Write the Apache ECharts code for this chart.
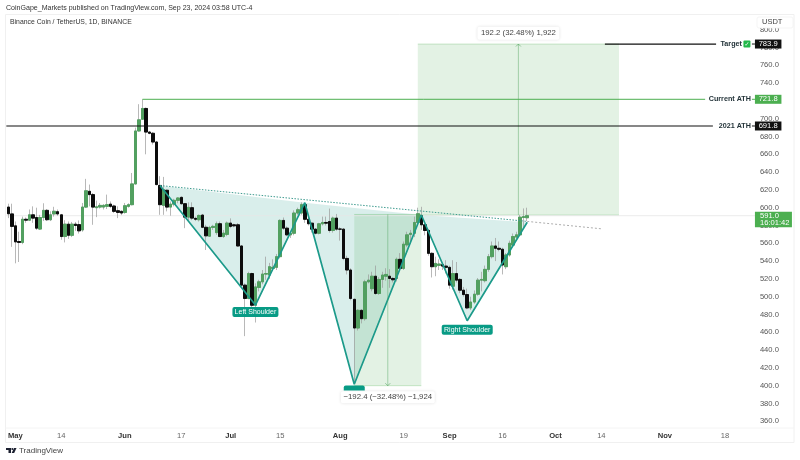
<!DOCTYPE html>
<html><head><meta charset="utf-8">
<style>html,body{margin:0;padding:0;background:#fff}#c{width:800px;height:460px}</style>
<script src="https://cdn.jsdelivr.net/npm/echarts@6/dist/echarts.min.js"></script>
</head><body><div id="c"></div>
<script>
const opens = [
600.7,593,579.6,562,561,587,586,592,589,576,
589,597,586.5,593,595.5,592,567.6,581.5,569,581.5,
581,575,600.7,618.4,614.7,600,600.7,600.7,601.5,604,
601.9,596.6,595.9,594.7,601.5,603.4,626.7,686.2,699.4,711.5,
685,683.6,673.8,625,602.6,619.6,600.7,604,608.3,611.6,
604.5,589.4,600,588,586.5,591.7,578,568,577.8,572,
582,567.6,570,582.7,580.8,580.8,557,513,498,526,
490.4,510.4,516.7,525.4,524.3,531.8,533,545,585.7,577,
569.5,571.3,594,594,603.4,587,582.6,575.9,571.3,581.9,
583.4,584.5,574.4,588.3,576,575.9,543,530,497,464.8,
484.7,475.3,516.7,509,523,503.6,519.4,523,523,520.5,
520.5,542,531.8,558.2,570,571.3,583.4,590.9,580.8,574.4,
548.7,533.7,535.2,536,534.4,533,511.8,526,519.4,507.3,
502.4,487.4,494,502.8,518.6,518,530.7,545,557,554.4,
553.3,533.7,546.9,558,567,569.5,589,588.7];
const closes = [
593.2,579,561.6,561,587,586,592,588.3,577,589,
597,586.5,592,596,593,567.6,581.5,569,581.5,580,
574,600.7,619,614.7,600.7,601,602.6,602.6,603.4,601.5,
595.9,594.7,594,602.2,603.4,626.7,686.2,698.7,711.5,685,
683.6,673.8,626,603.4,620.3,600.7,604,608.3,610.9,604.5,
589.4,600.4,588.3,587,591.3,578,568.4,577.8,579,582,
567.6,571.4,582.7,579,579.6,557,513,498,526,490.4,
511,516.7,525.4,526,533.7,533,545,585.7,577,569.5,
571.3,594,597.7,603.4,587,582,575.9,571.3,581.9,583.4,
582.6,574.4,588.3,575.9,575.9,543,530,498,464.8,484.7,
475.3,516.7,518.6,523,503.6,519.4,524.3,525,520.5,519,
542,531.8,559,569.5,571.3,583.4,593.2,580.8,574.4,548.7,
533.7,537.4,536.7,534.4,533,513,526,518.6,507.3,502.4,
487.4,494,502.8,518.6,519.4,530.7,545,557,554.4,553.3,
535.6,546.9,560,567.6,569.5,589.4,590,591];
const highs = [
604.5,604.5,584.5,573,590,589,598,601.5,600,592,
605,598.5,596,601,598,593,586,584.5,584,584,
585.7,605.3,632.4,626,616.5,608,605.3,604,614.7,607,
603.4,601.5,597,605.3,605,639,690,716.3,721.8,712.6,
686,685,675,635.4,634.6,620.3,607,610,612,612.8,
605.3,606,606,590,592.4,593,580.8,579.6,580.8,584.5,
584.5,575,584.5,588,582,582.7,558,515,528,527,
515,519,530,545,538,542,548,587,589,579,
573,597,600,606,605,589,583,577,583,590,
590,599,590,593,578,577,546,532,498,486,
486,519,525,528,535,522,528,532,531,522,
544,549,562,573,575,590,600,601,582,576,
550,545,542,538,541,535,541,539,521,511,
509,500,507,521,528,535,548,562,566,562,
555,549,563,571,573,592,599.2,600];
const lows = [
588.3,556,537.5,539,559,583,585,583,575,575,
585,585,585,590,591,564,561,565,567,574,
571,573,599.6,601.5,580.8,589.4,599,598,598.5,599.6,
594,588.3,591.7,593.2,600,602.6,626,685.5,698.7,660,
682.5,671,625,592,592,595.9,591,601.5,605,603.4,
577,586,586,585,584.5,577,552.5,567.6,575,569.5,
567,566,568,577,578,556,512,455.7,497,488,
471,506,514,519,520,530,530,543,575,568,
566,569,592,592,583,580,572,570,570,580,
580,572,572,574,563,541,525,496,402,462,
470,473,515,506,502,502,510,518,510,516,
517,529,530,556,560,567,580,575,569,546,
521.6,523,530,530,526,509,508,516,504,500,
486,485,492,501,506,516,528,543,540,551,
525,531,545,556,565,568,578,585];

const tickDates = ['2024-05-01','2024-05-14','2024-06-01','2024-06-17','2024-07-01','2024-07-15','2024-08-01','2024-08-19','2024-09-01','2024-09-16','2024-10-01','2024-10-14','2024-11-01','2024-11-18'];
const tickLabels = ['May','14','Jun','17','Jul','15','Aug','19','Sep','16','Oct','14','Nov','18'];

const patternIdx = [43,70,84,98,117,130,147];
const patternPrice = [624.7,490.6,605.6,401.6,591.8,473,583.6];
const necklineIdx = [43,147];
const necklinePrice = [624.9,584.6];
const necklineExtIdx = [147,168];
const necklineExtPrice = [584.6,576.3];

const levelNames = ['Target','Current ATH','2021 ATH'];
const levelPrices = [783.9,721.8,691.8];
const levelStart = [169,38,0];
const levelEnd = [200.5,197.4,199.6];
const levelColors = ['#111111','#4caf50','#111111'];
const lastPrice = 591.0;
const countdown = '16:01:42';

const upBox = {from:116,to:173,low:591.7,high:783.9,text:'192.2 (32.48%) 1,922',labelPrice:796};
const downBox = {from:98,to:117,low:400,high:592.4,text:'\u2212192.4 (\u221232.48%) \u22121,924',labelPrice:387};

const FONT = '"Liberation Sans", Arial, sans-serif';
const categories = [];
for (let t = Date.UTC(2024,3,29), i = 0; i < 212; i++, t += 864e5) categories.push(new Date(t).toISOString().slice(0,10));
const wickData = opens.map((o,i)=>[o,closes[i],lows[i],highs[i]]);
const bodyData = opens.map((o,i)=>[o,closes[i],Math.min(o,closes[i]),Math.max(o,closes[i])]);
const UP = '#52a060', DOWN = '#0c0c0c', TEAL = '#1c9a8a';

function cx(api,idx){ const a=Math.floor(idx), f=idx-a;
  const p=api.coord([a,600])[0]; if(!f) return p; return p+f*(api.coord([a+1,600])[0]-p); }
function py(api,v){ return api.coord([0,v])[1]; }

function renderBack(params,api){
  const ch=[];
  for(let k=0;k<3;k++){
    const pts=[0,1,2].map(j=>api.coord([patternIdx[k*2+j],patternPrice[k*2+j]]));
    ch.push({type:'polygon',shape:{points:pts},style:{fill:'rgba(28,154,138,0.17)'}});
  }
  [upBox,downBox].forEach(b=>{
    const x0=cx(api,b.from),x1=cx(api,b.to),y0=py(api,b.high),y1=py(api,b.low);
    ch.push({type:'rect',shape:{x:x0,y:y0,width:x1-x0,height:y1-y0},style:{fill:'rgba(76,175,80,0.155)'}});
    ch.push({type:'line',shape:{x1:x0,y1:y0,x2:x1,y2:y0},style:{stroke:'rgba(76,175,80,0.35)',lineWidth:.8}});
    ch.push({type:'line',shape:{x1:x0,y1:y1,x2:x1,y2:y1},style:{stroke:'rgba(76,175,80,0.35)',lineWidth:.8}});
  });
  const yl=py(api,lastPrice);
  ch.push({type:'line',shape:{x1:cx(api,0)-2,y1:yl,x2:cx(api,211)+2,y2:yl},style:{stroke:'#e6e6e6',lineWidth:.8}});
  return {type:'group',children:ch};
}

function textEl(x,y,text,o){ return {type:'text',style:Object.assign({x,y,text,align:'center',verticalAlign:'middle',font:'7.6px '+FONT,fill:'#333'},o||{})}; }

function renderFront(params,api){
  const ch=[];
  [[upBox,true],[downBox,false]].forEach(([b,up])=>{
    const x=cx(api,(b.from+b.to)/2),y0=py(api,b.high),y1=py(api,b.low);
    ch.push({type:'line',shape:{x1:x,y1:y0,x2:x,y2:y1},style:{stroke:'rgba(76,160,90,0.55)',lineWidth:.8}});
    const tip=up?y0:y1,s=up?2.5:-2.5;
    ch.push({type:'polyline',shape:{points:[[x-2.5,tip+s],[x,tip],[x+2.5,tip+s]]},style:{stroke:'rgba(76,160,90,0.7)',lineWidth:.8,fill:null}});
    const lx=x,ly=py(api,b.labelPrice),w=up?82:94,h=up?13:12;
    ch.push({type:'rect',shape:{x:lx-w/2,y:ly-h/2,width:w,height:h,r:2},style:{fill:'#fff',shadowBlur:3,shadowColor:'rgba(0,0,0,0.13)'}});
    ch.push(textEl(lx,ly,b.text,{fill:'#444',font:'7.8px '+FONT}));
  });
  const hx=cx(api,98),hy=py(api,398);
  ch.push({type:'rect',shape:{x:hx-10.5,y:hy-2,width:21,height:5,r:[2,2,0,0]},style:{fill:'#089b85'}});
  [['Left Shoulder',70,482.8,46],['Right Shoulder',130,463,51]].forEach(([t,i,p,w])=>{
    const x=cx(api,i),y=py(api,p);
    ch.push({type:'rect',shape:{x:x-w/2,y:y-5,width:w,height:10,r:2},style:{fill:'#089b85'}});
    ch.push(textEl(x,y,t,{fill:'#fff',font:'7px '+FONT}));
  });
  const xEnd=cx(api,211)+1.8;
  levelNames.forEach((n,k)=>{
    const y=py(api,levelPrices[k]),c=levelColors[k];
    ch.push({type:'line',shape:{x1:cx(api,levelStart[k])-(k==2?2:0),y1:y,x2:cx(api,levelEnd[k]),y2:y},style:{stroke:c,lineWidth:k==1?1:1.2}});
    ch.push({type:'line',shape:{x1:xEnd-3,y1:y,x2:xEnd,y2:y},style:{stroke:c,lineWidth:1}});
    const right=k==0?xEnd-13:xEnd-4;
    ch.push(textEl(right,y,n,{align:'right',font:'bold 7.2px '+FONT,fill:'#24343a'}));
    if(k==0){
      ch.push({type:'rect',shape:{x:xEnd-11.5,y:y-3.5,width:7,height:7,r:1},style:{fill:'#22b84a'}});
      ch.push(textEl(xEnd-8,y,'\u2713',{fill:'#fff',font:'bold 6px "DejaVu Sans"'}));
    }
    ch.push({type:'rect',shape:{x:xEnd,y:y-4.5,width:26.5,height:9},style:{fill:c}});
    ch.push(textEl(xEnd+13.2,y,levelPrices[k].toFixed(1),{fill:'#fff'}));
  });
  const yp=py(api,lastPrice);
  ch.push({type:'rect',shape:{x:xEnd,y:yp-4,width:37,height:15.6},style:{fill:'#4caf50'}});
  ch.push(textEl(xEnd+5,yp,lastPrice.toFixed(1),{fill:'#fff',align:'left'}));
  ch.push(textEl(xEnd+5,yp+7.3,countdown,{fill:'#fff',align:'left'}));
  return {type:'group',children:ch};
}

const chart = echarts.init(document.getElementById('c'),null,{renderer:'canvas'});
chart.setOption({
  animation:false,
  backgroundColor:'#fff',
  textStyle:{fontFamily:FONT},
  grid:{left:6.56,right:45.1,top:11.9,bottom:38.7,containLabel:false},
  xAxis:{type:'category',data:categories,boundaryGap:true,
    axisLine:{show:false},axisTick:{show:false},splitLine:{show:false},
    axisLabel:{margin:11,interval:(i,v)=>tickDates.includes(v),hideOverlap:false,
      formatter:v=>{const t=tickLabels[tickDates.indexOf(v)];return /^\d/.test(t)?'{n|'+t+'}':'{b|'+t+'}';},
      rich:{b:{fontSize:7.6,fontWeight:'bold',fontFamily:FONT,color:'#333'},n:{fontSize:7.6,fontFamily:FONT,color:'#666'}}}},
  yAxis:{type:'value',position:'right',min:360,max:820,interval:20,scale:true,
    axisLine:{show:false},axisTick:{show:false},splitLine:{show:false},
    axisLabel:{margin:5,showMaxLabel:false,color:'#555',fontSize:7.6,fontFamily:FONT,formatter:v=>v.toFixed(1)}},
  series:[
    {type:'custom',z:1,silent:true,data:[[0,600]],renderItem:renderBack,clip:false},
    {type:'candlestick',name:'wicks',z:2,barWidth:3,data:wickData,silent:true,
      itemStyle:{color:'#9a9a9a',color0:'#9a9a9a',borderColor:'#9a9a9a',borderColor0:'#9a9a9a',borderWidth:.7}},
    {type:'candlestick',name:'BNB/USDT',z:3,barWidth:3,data:bodyData,silent:true,
      itemStyle:{color:UP,color0:DOWN,borderColor:UP,borderColor0:DOWN,borderWidth:1}},
    {type:'line',z:4,silent:true,showSymbol:false,data:patternIdx.map((x,i)=>[x,patternPrice[i]]),lineStyle:{color:TEAL,width:1.7}},
    {type:'line',z:4,silent:true,showSymbol:false,data:necklineIdx.map((x,i)=>[x,necklinePrice[i]]),lineStyle:{color:'#3f9c90',width:1,type:[1.5,1.5]}},
    {type:'line',z:4,silent:true,showSymbol:false,data:necklineExtIdx.map((x,i)=>[x,necklineExtPrice[i]]),lineStyle:{color:'#999',width:.8,type:[2,2]}},
    {type:'custom',z:6,silent:true,data:[[0,600]],renderItem:renderFront,clip:false}
  ],
  graphic:[
    {type:'rect',z:100,silent:true,shape:{x:5.5,y:14.5,width:788.5,height:428},style:{fill:'none',stroke:'#f0f0f0',lineWidth:1}},
    {type:'line',z:100,silent:true,shape:{x1:5.5,y1:428,x2:794,y2:428},style:{stroke:'#f4f4f4',lineWidth:1}},
    {type:'text',z:100,left:6,top:5,style:{text:'CoinGape_Markets published on TradingView.com, Sep 23, 2024 03:58 UTC-4',font:'7.05px '+FONT,fill:'#333'}},
    {type:'text',z:100,left:10,top:19,style:{text:'Binance Coin / TetherUS, 1D, BINANCE',font:'6.85px '+FONT,fill:'#333'}},
    {type:'rect',z:100,silent:true,shape:{x:757,y:17,width:36,height:11,r:2},style:{fill:'#fff',stroke:'#f0f0f0',lineWidth:.7}},
    {type:'text',z:101,left:762,top:18,style:{text:'USDT',font:'7.5px '+FONT,fill:'#444'}},
    {type:'text',z:100,left:19,top:447,style:{text:'TradingView',font:'8px '+FONT,fill:'#444'}},
    {type:'polygon',z:100,silent:true,shape:{points:[[6,448],[11,448],[11,453],[8.5,453],[8.5,450],[6,450]]},style:{fill:'#1c2030'}},
    {type:'circle',z:100,silent:true,shape:{cx:12.3,cy:449,r:1},style:{fill:'#1c2030'}},
    {type:'polygon',z:100,silent:true,shape:{points:[[14,448],[16.5,448],[14.2,453],[11.7,453]]},style:{fill:'#1c2030'}}
  ]
});
</script></body></html>
